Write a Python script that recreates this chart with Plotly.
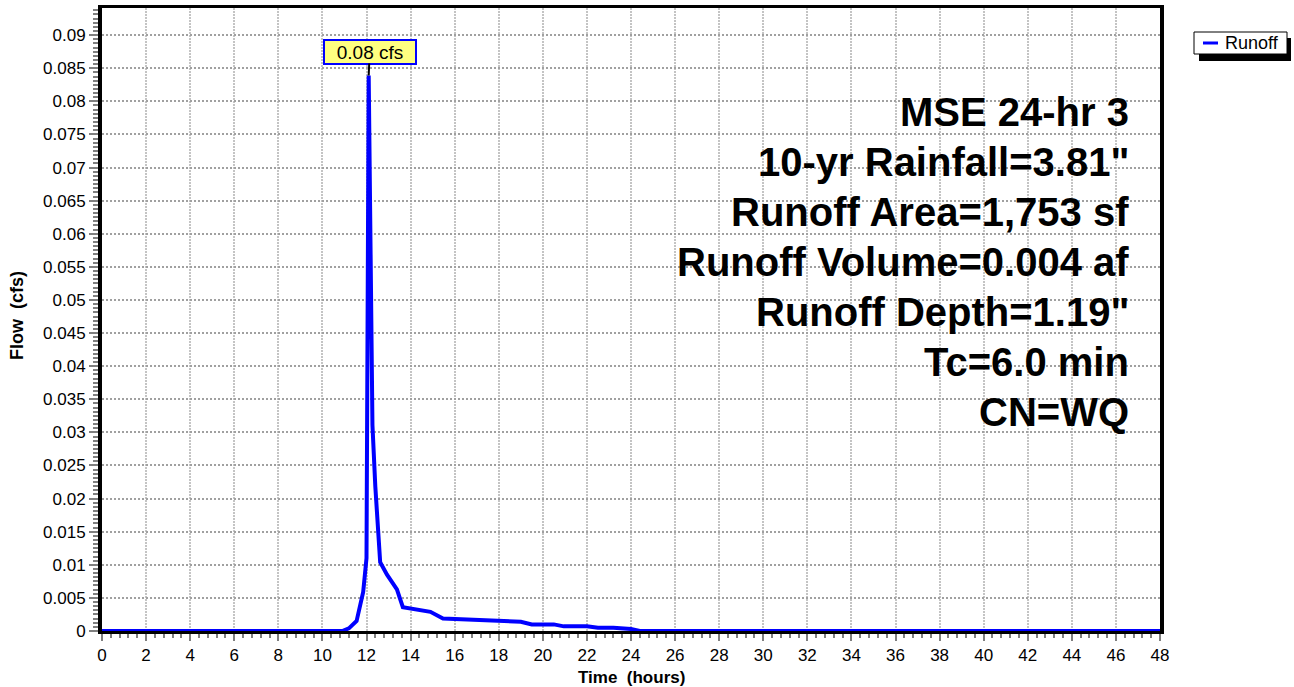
import plotly.graph_objects as go

# ---- data ----
time_hr = [0, 10.9, 11.2, 11.55, 11.85, 12.0, 12.1, 12.27, 12.4, 12.55, 12.62, 12.93,
           13.38, 13.65, 14.9, 15.47, 17.47, 18.0, 19.0, 19.5, 20.5, 20.95, 22.0,
           22.5, 23.2, 24.0, 24.4, 48]
flow_cfs = [0, 0, 0.0004, 0.0015, 0.0059, 0.011, 0.0839, 0.0311, 0.0218, 0.014, 0.0104,
            0.0085, 0.0063, 0.0036, 0.0029, 0.0019, 0.0016, 0.0014, 0.0014, 0.0010,
            0.0010, 0.0007, 0.0007, 0.0005, 0.0005, 0.0003, 0.0, 0.0]
series_name = "Runoff"
peak_label = "0.08 cfs"
info_lines = ["MSE 24-hr 3", "10-yr Rainfall=3.81\"", "Runoff Area=1,753 sf",
              "Runoff Volume=0.004 af", "Runoff Depth=1.19\"", "Tc=6.0 min", "CN=WQ"]
x_range = [0, 48]
y_range = [0, 0.0941]

W, H = 1294, 687
L, R, T, B = 102, 134, 8, 56
PW, PH = W - L - R, H - T - B


def px2x(px):
    return (px - L) / PW


def py2y(py):
    return (H - B - py) / PH


FONT = "Liberation Sans, Arial, sans-serif"

fig = go.Figure()
fig.add_trace(go.Scatter(x=time_hr, y=flow_cfs, mode="lines", name=series_name,
                         line=dict(color="#0000ff", width=4), showlegend=False))

peak_i = max(range(len(flow_cfs)), key=lambda i: flow_cfs[i])

annotations = [
    dict(x=time_hr[peak_i], y=flow_cfs[peak_i], xref="x", yref="y", text=peak_label,
         showarrow=True, arrowhead=0, arrowwidth=2, arrowcolor="black", ax=1, ay=-24,
         bgcolor="#ffff80", bordercolor="#0000ff", borderwidth=2, borderpad=1,
         width=88, height=20, font=dict(family=FONT, size=19, color="black")),
]
for k, line in enumerate(info_lines):
    annotations.append(dict(x=px2x(1131), y=py2y(112 + 50 * k), xref="paper", yref="paper",
                            text="<b>%s</b>" % line, showarrow=False, xanchor="right",
                            yanchor="middle",
                            font=dict(family=FONT, size=40, color="black")))
# legend text
annotations.append(dict(x=px2x(1223), y=py2y(43), xref="paper", yref="paper", text=series_name,
                        showarrow=False, xanchor="left", yanchor="middle",
                        font=dict(family=FONT, size=18, color="black")))
# axis titles
annotations.append(dict(x=0.5, y=py2y(677), xref="paper", yref="paper",
                        text="<b>Time  (hours)</b>", showarrow=False, xanchor="center",
                        yanchor="middle", font=dict(family=FONT, size=17, color="black")))
annotations.append(dict(x=px2x(17), y=py2y(316), xref="paper", yref="paper",
                        text="<b>Flow  (cfs)</b>", showarrow=False, xanchor="center",
                        yanchor="middle", textangle=-90,
                        font=dict(family=FONT, size=18, color="black")))

shapes = [
    # legend shadow
    dict(type="rect", xref="paper", yref="paper", x0=px2x(1199), x1=px2x(1291),
         y0=py2y(38), y1=py2y(61), fillcolor="black", line=dict(width=0)),
    # legend box
    dict(type="rect", xref="paper", yref="paper", x0=px2x(1194), x1=px2x(1287),
         y0=py2y(32), y1=py2y(54), fillcolor="white", line=dict(color="black", width=1)),
    # legend line sample
    dict(type="line", xref="paper", yref="paper", x0=px2x(1203), x1=px2x(1218),
         y0=py2y(43), y1=py2y(43), line=dict(color="#0000ff", width=3)),
]

fig.update_layout(
    width=W, height=H, margin=dict(l=L, r=R, t=T, b=B, autoexpand=False),
    paper_bgcolor="white", plot_bgcolor="white",
    font=dict(family=FONT, color="black"),
    annotations=annotations, shapes=shapes, showlegend=False,
)
fig.update_xaxes(
    range=x_range, dtick=2, tick0=0, showline=True, linecolor="black", linewidth=3,
    mirror=True, ticks="outside", ticklen=7, tickwidth=2, tickcolor="#808080",
    showgrid=True, gridcolor="#c4c4c4", gridwidth=1.5, griddash="2px,1px", zeroline=False,
    tickfont=dict(size=17, family=FONT, color="black"), automargin=False,
    minor=dict(dtick=0.4, tick0=0, ticks="outside", ticklen=4, tickwidth=2,
               tickcolor="#808080", showgrid=False),
)
fig.update_yaxes(
    range=y_range, dtick=0.005, tick0=0, showline=True, linecolor="black", linewidth=4,
    mirror=True, ticks="outside", ticklen=9, tickwidth=2, tickcolor="#808080",
    showgrid=True, gridcolor="#a0a0a0", gridwidth=1.5, griddash="2px,2px", zeroline=False,
    tickfont=dict(size=17, family=FONT, color="black"), automargin=False,
    minor=dict(dtick=0.000625, tick0=0, ticks="outside", ticklen=5, tickwidth=2,
               tickcolor="#808080", showgrid=False),
)

fig.write_html("out.html", config={"displayModeBar": False},
               post_script="document.body.style.margin='0px';"
                           "document.body.style.overflow='hidden';")
